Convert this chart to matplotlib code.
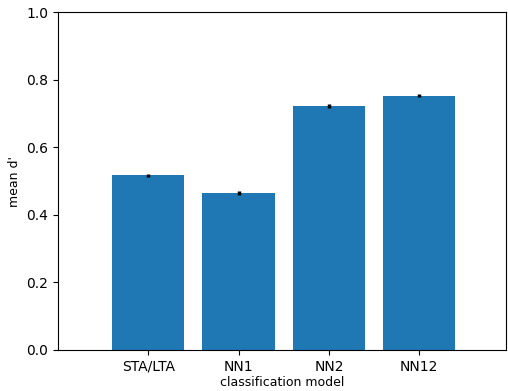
import matplotlib
matplotlib.use("Agg")
import matplotlib.pyplot as plt

models = ["STA/LTA", "NN1", "NN2", "NN12"]
mean_d = [0.517, 0.465, 0.722, 0.753]
err_d = [0.004, 0.005, 0.005, 0.004]

fig = plt.figure(figsize=(5.08, 3.91), dpi=100)
ax = fig.add_axes([0.114, 0.105, 0.882, 0.864])
x = list(range(len(models)))
ax.bar(x, mean_d, width=0.8, color="#1f77b4", yerr=err_d, ecolor="black",
       error_kw=dict(elinewidth=2.5))
ax.set_xticks(x)
ax.set_xticklabels(models)
ax.set_xlim(-1, 3.96)
ax.set_ylim(0, 1.0)
ax.set_xlabel("classification model", fontsize=9, labelpad=2)
ax.set_ylabel("mean d'", fontsize=9)
fig.savefig("out.png", dpi=100)
